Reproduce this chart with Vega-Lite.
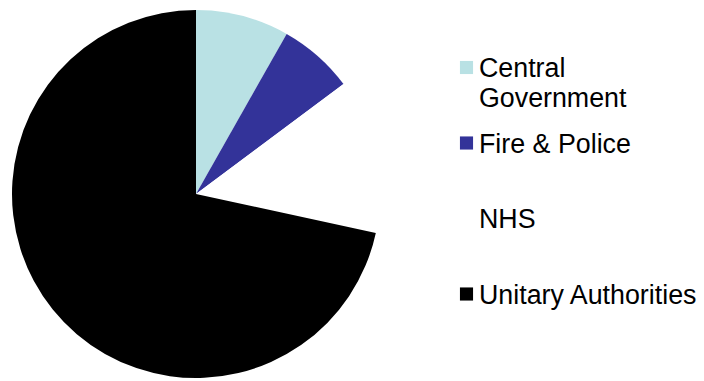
{
  "$schema": "https://vega.github.io/schema/vega-lite/v6.json",
  "padding": 0,
  "background": "white",
  "spacing": 0,
  "config": {"view": {"stroke": null}},
  "data": {
    "values": [
      {"category": "Central Government", "label": "Central\nGovernment", "value": 8.2},
      {"category": "Fire & Police", "label": "Fire & Police", "value": 6.6},
      {"category": "NHS", "label": "NHS", "value": 13.6},
      {"category": "Unitary Authorities", "label": "Unitary Authorities", "value": 71.6}
    ]
  },
  "hconcat": [
    {
      "width": 392,
      "height": 388,
      "mark": {"type": "arc", "outerRadius": 184},
      "encoding": {
        "theta": {"field": "value", "type": "quantitative", "stack": true},
        "order": {"field": "category", "sort": "ascending"},
        "color": {
          "field": "category",
          "type": "nominal",
          "scale": {
            "domain": ["Central Government", "Fire & Police", "NHS", "Unitary Authorities"],
            "range": ["#B9E1E4", "#333399", "#FFFFFF", "#000000"]
          },
          "legend": null
        }
      }
    },
    {
      "width": 149,
      "height": 388,
      "encoding": {
        "y": {
          "field": "category",
          "type": "nominal",
          "scale": {"range": [67.5, 294], "padding": 0},
          "axis": null
        }
      },
      "layer": [
        {
          "mark": {"type": "point", "shape": "square", "filled": true, "size": 172, "opacity": 1, "strokeWidth": 0},
          "encoding": {
            "color": {
              "field": "category",
              "type": "nominal",
              "scale": {
                "domain": ["Central Government", "Fire & Police", "NHS", "Unitary Authorities"],
                "range": ["#B9E1E4", "#333399", "#FFFFFF", "#000000"]
              },
              "legend": null
            }
          }
        },
        {
          "mark": {
            "type": "text",
            "align": "left",
            "baseline": "alphabetic",
            "dx": 12.5,
            "dy": 9.5,
            "font": "Liberation Sans",
            "fontSize": 26.8,
            "lineHeight": 30,
            "lineBreak": "\n",
            "color": "#000000"
          },
          "encoding": {
            "text": {"field": "label", "type": "nominal"}
          }
        }
      ]
    }
  ]
}
